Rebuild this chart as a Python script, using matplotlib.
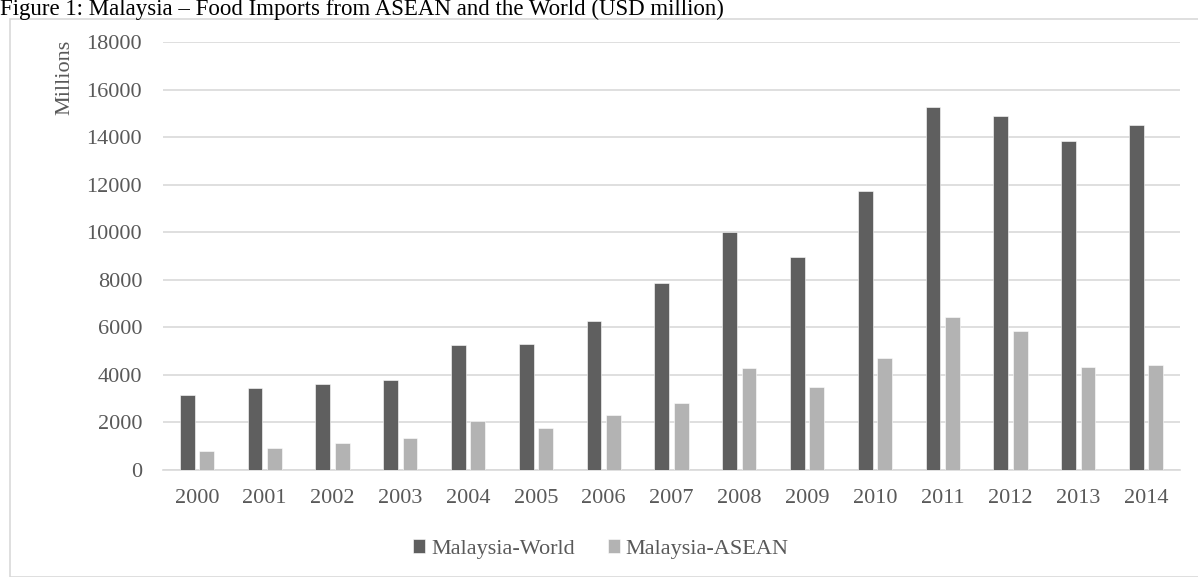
import matplotlib.pyplot as plt
import matplotlib.patches as patches
import numpy as np

# data (USD million)
years = ['2000', '2001', '2002', '2003', '2004', '2005', '2006', '2007',
         '2008', '2009', '2010', '2011', '2012', '2013', '2014']
world = [3150, 3450, 3620, 3780, 5270, 5320, 6250, 7870,
         10020, 8970, 11730, 15280, 14900, 13850, 14500]
asean = [800, 920, 1120, 1340, 2080, 1750, 2300, 2830,
         4280, 3500, 4700, 6430, 5830, 4320, 4400]

W, H = 1198, 577
txt = '#595959'
plt.rcParams['font.family'] = ['Liberation Serif', 'DejaVu Serif']

fig = plt.figure(figsize=(W/100, H/100), dpi=100)

# light frame around the chart
fig.patches.append(patches.Rectangle((10/W, 0), 1.2, 1 - 19/H, transform=fig.transFigure,
                                     fill=False, edgecolor='#d9d9d9', linewidth=1.2))

ax = fig.add_axes([163/W, 1 - 470/H, (1180-163)/W, (470-42)/H])

x = np.arange(len(years))
bw = 0.22
ax.bar(x - 0.143, world, bw, color='#5f5f5f', edgecolor='white', linewidth=0.4, label='Malaysia-World', zorder=3)
ax.bar(x + 0.143, asean, bw, color='#b3b3b3', edgecolor='white', linewidth=0.4, label='Malaysia-ASEAN', zorder=3)

ax.set_xlim(-0.5, len(years) - 0.5)
ax.set_ylim(0, 18000)
ax.set_yticks(range(0, 18001, 2000))
ax.set_xticks(x)
ax.set_xticklabels(years)
ax.grid(axis='y', color='#d9d9d9', linewidth=1.2, zorder=0)
for s in ['top', 'right', 'left']:
    ax.spines[s].set_visible(False)
ax.spines['bottom'].set_color('#d9d9d9')
ax.spines['bottom'].set_linewidth(1.2)
ax.tick_params(length=0, labelsize=16, colors=txt)
ax.tick_params(axis='y', pad=15)
ax.tick_params(axis='x', pad=14)

fig.text(65/W, 1 - 77/H, 'Millions', rotation=90, ha='center', va='center', fontsize=16, color=txt)

# title, its top edge slightly cut off
fig.text(0, 1 - 15/H, 'Figure 1: Malaysia \u2013 Food Imports from ASEAN and the World (USD million)',
         ha='left', va='baseline', fontsize=16.5, color='black')

fig.legend(loc='center', bbox_to_anchor=(601/W, 1 - 549/H), ncol=2, frameon=False,
           fontsize=16, handlelength=0.55, handleheight=0.55, handletextpad=0.25,
           columnspacing=1.5, labelcolor=txt)

fig.savefig('out.png', dpi=100)
